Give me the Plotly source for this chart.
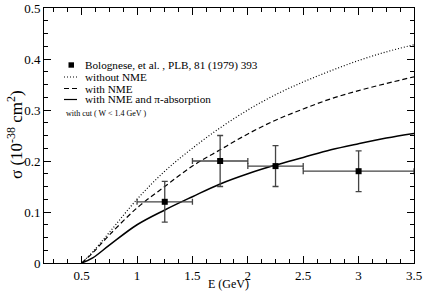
import plotly.graph_objects as go

# Data
E_curve = [0.5, 0.6, 0.75, 1.0, 1.25, 1.5, 1.75, 2.0, 2.25, 2.5, 2.75, 3.0, 3.25, 3.5]
sigma_no_nme = [0.0, 0.022, 0.06, 0.125, 0.18, 0.225, 0.265, 0.30, 0.33, 0.355, 0.377, 0.397, 0.414, 0.428]
sigma_nme = [0.0, 0.02, 0.055, 0.108, 0.15, 0.19, 0.222, 0.253, 0.28, 0.302, 0.322, 0.338, 0.352, 0.365]
sigma_nme_abs = [0.0, 0.01, 0.035, 0.075, 0.104, 0.13, 0.155, 0.175, 0.192, 0.207, 0.222, 0.234, 0.245, 0.254]

E_data = [1.25, 1.75, 2.25, 3.0]
E_err = [0.25, 0.25, 0.25, 0.5]
sigma_data = [0.12, 0.20, 0.19, 0.18]
sigma_err = [0.04, 0.05, 0.04, 0.04]

x_ticks = [0.5, 1.0, 1.5, 2.0, 2.5, 3.0, 3.5]
x_ticktext = ["0.5", "1", "1.5", "2", "2.5", "3", "3.5"]
y_ticks = [0, 0.1, 0.2, 0.3, 0.4, 0.5]
y_ticktext = ["0", "0.1", "0.2", "0.3", "0.4", "0.5"]

legend_labels = ["Bolognese, et al. , PLB, 81 (1979) 393", "without NME", "with NME",
                 "with NME and π-absorption"]
cut_label = "with cut ( W < 1.4 GeV )"
x_title = "E (GeV)"
y_title = "σ (10<sup>-38</sup> cm<sup>2</sup>)"

W, H = 426, 291
L, R, T, B = 44, 12, 8, 28
FONT = "Liberation Serif"

fig = go.Figure()
fig.add_trace(go.Scatter(x=E_curve, y=sigma_no_nme, mode="lines", line=dict(color="black", width=1.2, dash="1px,2px", shape="spline"), showlegend=False))
fig.add_trace(go.Scatter(x=E_curve, y=sigma_nme, mode="lines", line=dict(color="black", width=1.2, dash="5px,3px", shape="spline"), showlegend=False))
fig.add_trace(go.Scatter(x=E_curve, y=sigma_nme_abs, mode="lines", line=dict(color="black", width=1.5, shape="spline"), showlegend=False))
fig.add_trace(go.Scatter(
    x=E_data, y=sigma_data, mode="markers",
    marker=dict(symbol="square", size=6, color="black"),
    error_x=dict(type="data", array=E_err, color="#444", thickness=1.3, width=3),
    error_y=dict(type="data", array=sigma_err, color="#444", thickness=1.3, width=3),
    showlegend=False))

pw, ph = W - L - R, H - T - B
def px(xp):
    return (xp - L) / pw
def py(yp):
    return (H - B - yp) / ph

leg_y = [65, 77, 88.5, 99.5]
shapes = []
annotations = []
shapes.append(dict(type="rect", xref="paper", yref="paper",
                   x0=px(68.5), x1=px(74), y0=py(leg_y[0] + 2.7), y1=py(leg_y[0] - 2.7),
                   fillcolor="black", line=dict(width=0)))
dashes = ["1px,2px", "5px,3px", "solid"]
for i, d in enumerate(dashes):
    shapes.append(dict(type="line", xref="paper", yref="paper",
                       x0=px(64), x1=px(77), y0=py(leg_y[i + 1]), y1=py(leg_y[i + 1]),
                       line=dict(color="black", width=1.2, dash=d)))
for i, lab in enumerate(legend_labels):
    annotations.append(dict(text=lab, xref="paper", yref="paper", x=px(83), y=py(leg_y[i]),
                            xanchor="left", yanchor="middle", showarrow=False,
                            font=dict(family=FONT, size=11.2, color="black")))
annotations.append(dict(text=cut_label, xref="paper", yref="paper", x=px(64), y=py(113),
                        xanchor="left", yanchor="middle", showarrow=False,
                        font=dict(family=FONT, size=8, color="black")))
annotations.append(dict(text=x_title, xref="paper", yref="paper", x=px(228), y=py(284),
                        xanchor="center", yanchor="middle", showarrow=False,
                        font=dict(family=FONT, size=12, color="black")))
annotations.append(dict(text=y_title, xref="paper", yref="paper", x=px(15), y=py(135),
                        xanchor="center", yanchor="middle", showarrow=False, textangle=-90,
                        font=dict(family=FONT, size=17, color="black")))

axis_common = dict(showline=True, linecolor="black", linewidth=1, mirror="ticks",
                   ticks="inside", ticklen=7, tickwidth=1, tickcolor="black",
                   showgrid=False, zeroline=False, automargin=False,
                   tickfont=dict(family=FONT, size=13, color="black"))

fig.update_layout(
    width=W, height=H, margin=dict(l=L, r=R, t=T, b=B),
    paper_bgcolor="white", plot_bgcolor="white",
    shapes=shapes, annotations=annotations,
    xaxis=dict(range=[0.16, 3.5], tickvals=x_ticks, ticktext=x_ticktext,
               minor=dict(dtick=0.125, tick0=0.5, ticks="inside", ticklen=4, tickcolor="black", showgrid=False),
               **axis_common),
    yaxis=dict(range=[0, 0.5], tickvals=y_ticks, ticktext=y_ticktext,
               minor=dict(dtick=0.025, tick0=0, ticks="inside", ticklen=4, tickcolor="black", showgrid=False),
               **axis_common),
)

fig.write_html("out.html", config={"displayModeBar": False},
               post_script="document.body.style.margin='0px';document.body.style.overflow='hidden';")
